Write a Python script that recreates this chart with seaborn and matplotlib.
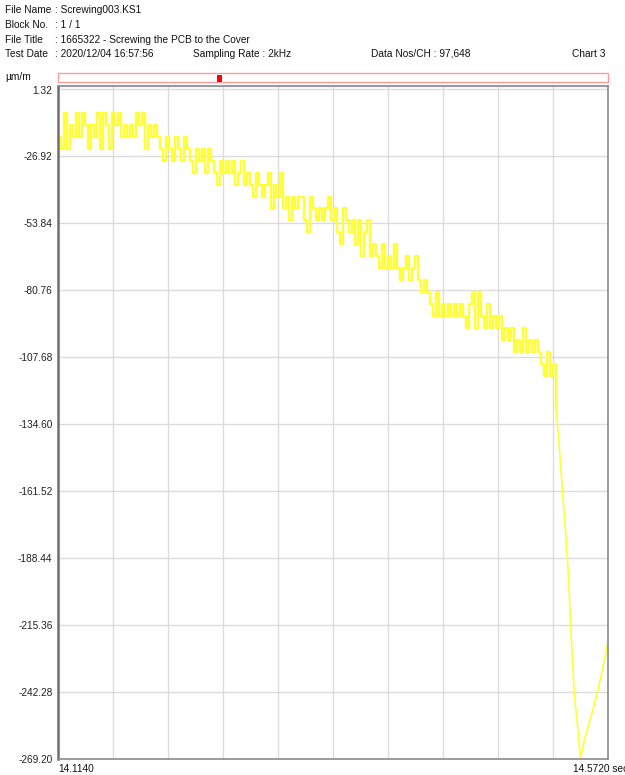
import numpy as np
import pandas as pd
import matplotlib
matplotlib.use("Agg")
import matplotlib.pyplot as plt
import matplotlib.transforms as mtransforms
from matplotlib.patches import Rectangle
import seaborn as sns

# ---------------- data ----------------
t_start = 14.1140
t_end = 14.5720
dt = 0.0025  # one point every 5 samples at 2 kHz

strain_noisy = [
    -19.1, -23.9, -9.5, -23.9, -14.3, -19.1, -9.5, -19.1, -9.5, -14.3, -23.9, -14.3, -19.1,
    -9.5, -23.9, -9.5, -14.3, -23.9, -9.5, -14.3, -9.5, -19.1, -14.3, -19.1, -14.3, -19.1,
    -9.5, -14.3, -9.5, -23.9, -14.3, -19.1, -14.3,
    -19.1, -23.9, -28.7, -19.1, -23.9, -28.7, -19.1, -23.9, -28.7,
    -19.1, -23.9, -28.7, -33.5, -23.9, -28.7,
    -23.9, -33.5, -23.9, -28.7, -33.5, -38.3, -28.7, -33.5, -28.7, -33.5, -28.7,
    -38.3, -33.5, -28.7, -38.3, -33.5, -38.3, -43.1, -33.5, -38.3,
    -43.1, -38.3, -33.5, -47.9, -38.3, -43.1, -33.5, -47.9, -43.1,
    -52.7, -43.1, -47.9, -43.1,
    -43.1, -52.7, -57.5, -43.1, -47.9, -52.7, -47.9, -52.7, -47.9, -43.1, -52.7,
    -47.9, -57.5, -62.3, -47.9, -52.7, -57.5, -52.7,
    -62.3, -52.7, -67.1, -57.5, -52.7, -67.1,
    -62.3, -67.1, -71.9, -62.3,
    -71.9, -67.1, -71.9, -62.3, -71.9,
    -76.7, -71.9, -67.1, -76.7, -71.9, -67.1, -76.7,
    -81.5, -76.7, -81.5,
    -86.3, -91.1, -81.5, -91.1, -86.3,
    -91.1, -86.3, -91.1, -86.3, -91.1, -86.3, -91.1, -95.9, -86.3, -81.5, -95.9, -81.5,
    -91.1, -95.9, -86.3,
    -95.9, -91.1, -95.9, -91.1,
    -100.7, -95.9, -100.7, -95.9, -105.5, -100.7, -105.5, -95.9,
    -105.5, -100.7, -105.5, -100.7, -105.5,
    -110.3, -115.1, -105.5, -115.1, -110.3,
]
strain_drop = [
    -128.9, -144.1, -161.0, -176.3, -195.2, -221.3, -243.4, -255.4, -268.7,
    -263.5, -258.6, -254.2, -250.2, -245.4, -240.6, -235.3, -229.3, -223.3,
]

y_top = 1.32
y_tick_labels = ["1.32", "-26.92", "-53.84", "-80.76", "-107.68", "-134.60",
                 "-161.52", "-188.44", "-215.36", "-242.28", "-269.20"]
y_tick_values = [float(s) for s in y_tick_labels]
x_left_label = "14.1140"
x_right_label = "14.5720 sec"

header_rows = [
    ("File Name", ": Screwing003.KS1"),
    ("Block No.", ": 1 / 1"),
    ("File Title", ": 1665322 - Screwing the PCB to the Cover"),
    ("Test Date", ": 2020/12/04 16:57:56"),
]
sampling_text = "Sampling Rate : 2kHz"
data_nos_text = "Data Nos/CH : 97,648"
chart_text = "Chart 3"
unit_text = "\u00b5m/m"

strain = strain_noisy + strain_drop
time = [t_start + dt * i for i in range(len(strain))]
df = pd.DataFrame({"time": time, "strain": strain})
n_noisy = len(strain_noisy)

# ---------------- figure ----------------
sns.set_style("white")
plt.rcParams["font.family"] = ["Liberation Sans", "DejaVu Sans"]
W, H = 625, 775
fig = plt.figure(figsize=(W / 100, H / 100), dpi=100)
fig.patch.set_facecolor("white")

L, R, T, B = 58, 608, 86, 759
ax = fig.add_axes([L / W, 1 - B / H, (R - L) / W, (B - T) / H])

line_color = "#ffff33"
sns.lineplot(data=df.iloc[: n_noisy + 1], x="time", y="strain", ax=ax,
             color=line_color, lw=1.7, drawstyle="steps-post", estimator=None, sort=False)
sns.lineplot(data=df.iloc[n_noisy:], x="time", y="strain", ax=ax,
             color=line_color, lw=1.2, estimator=None, sort=False)

ax.set_xlim(t_start, t_end)
ax.set_ylim(y_tick_values[-1], y_top)

grid_x = [t_start + (t_end - t_start) * k / 10 for k in range(1, 10)]
ax.set_xticks(grid_x)
ax.set_xticklabels([])
ax.set_yticks(y_tick_values)
ax.set_yticklabels(y_tick_labels)
ax.yaxis.set_minor_locator(matplotlib.ticker.FixedLocator([0.0]))
ax.grid(True, which="both", color="#dcdcdc", lw=1.0)
ax.set_axisbelow(True)
ax.tick_params(axis="both", which="both", length=0)
ax.tick_params(axis="y", labelsize=7.3, colors="#222222", pad=4)
ax.set_xlabel("")
ax.set_ylabel("")
for side in ["top", "right", "bottom"]:
    ax.spines[side].set_color("#8a8a8a")
    ax.spines[side].set_linewidth(1.2)
ax.spines["left"].set_color("#6e6e6e")
ax.spines["left"].set_linewidth(1.8)

# nudge the top label down a little like the reference
lbl = ax.get_yticklabels()[0]
lbl.set_transform(lbl.get_transform() + mtransforms.ScaledTranslation(0, -3.5 / 100, fig.dpi_scale_trans))

fs = 7.3
tc = "#111111"
rows_y = [10, 25, 40, 54]
for (lab, val), yy in zip(header_rows, rows_y):
    fig.text(5 / W, 1 - yy / H, lab, fontsize=fs, color=tc, va="center", ha="left")
    fig.text(55 / W, 1 - yy / H, val, fontsize=fs, color=tc, va="center", ha="left")
fig.text(193 / W, 1 - 54 / H, sampling_text, fontsize=fs, color=tc, va="center", ha="left")
fig.text(371 / W, 1 - 54 / H, data_nos_text, fontsize=fs, color=tc, va="center", ha="left")
fig.text(606 / W, 1 - 54 / H, chart_text, fontsize=fs, color=tc, va="center", ha="right")
fig.text(5 / W, 1 - 77 / H, unit_text, fontsize=fs, color=tc, va="center", ha="left")

# scroll bar
fig.patches.append(Rectangle((L / W, 1 - 82 / H), (R - L) / W, 9 / H, transform=fig.transFigure,
                             facecolor="white", edgecolor="#ff9a9a", lw=1.0))
fig.patches.append(Rectangle((217 / W, 1 - 82 / H), 5 / W, 7 / H, transform=fig.transFigure,
                             facecolor="#ff0000", edgecolor="none"))

# x end labels (the right one runs past the page edge, as in the original)
fig.text(58 / W, 1 - 769 / H, x_left_label, fontsize=fs, color=tc, va="center", ha="left")
fig.text(573 / W, 1 - 769 / H, x_right_label, fontsize=fs, color=tc, va="center", ha="left")

fig.savefig("out.png", dpi=100, facecolor="white")
